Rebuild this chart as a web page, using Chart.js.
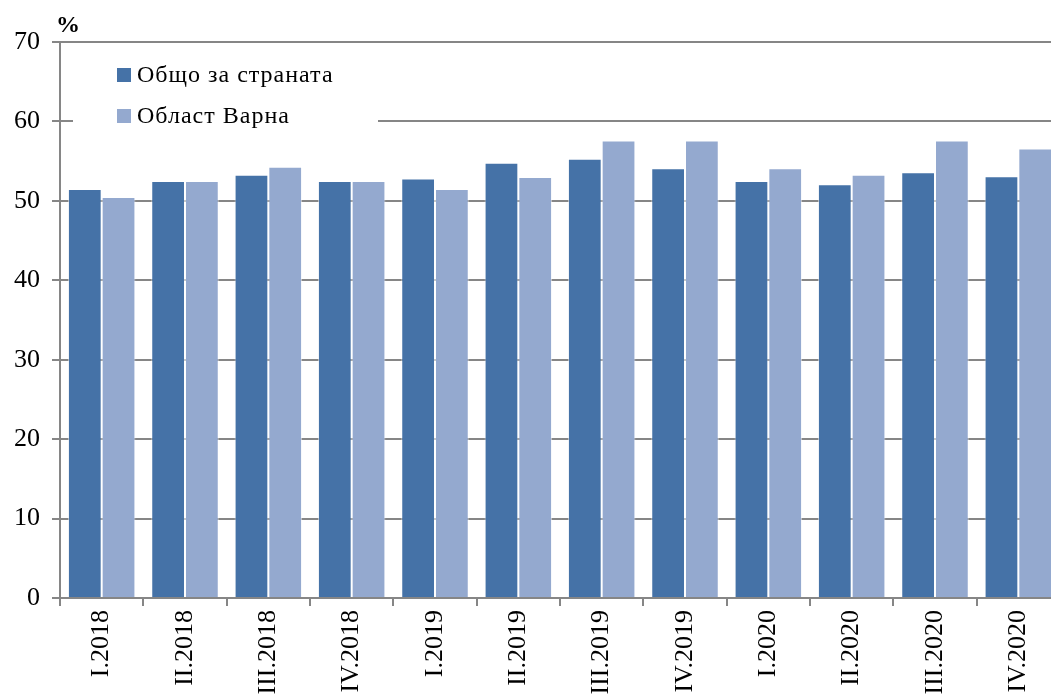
<!DOCTYPE html>
<html>
<head>
<meta charset="utf-8">
<script src="https://cdn.jsdelivr.net/npm/chart.js@4/dist/chart.umd.min.js"></script>
<style>
  html, body { margin: 0; padding: 0; background: #fff; overflow: hidden; }
  #wrap { position: relative; width: 1060px; height: 760px; }
</style>
</head>
<body>
<div id="wrap"><canvas id="chart"></canvas></div>
<script>
// quarters
const labels = ['I.2018', 'II.2018', 'III.2018', 'IV.2018', 'I.2019', 'II.2019', 'III.2019', 'IV.2019', 'I.2020', 'II.2020', 'III.2020', 'IV.2020'];
const country = [51.5, 52.5, 53.3, 52.5, 52.8, 54.8, 55.3, 54.1, 52.5, 52.1, 53.6, 53.1];
const varna = [50.5, 52.5, 54.3, 52.5, 51.5, 53.0, 57.6, 57.6, 54.1, 53.3, 57.6, 56.6];
const seriesNames = ['Общо за страната', 'Област Варна'];
const yTicks = [0, 10, 20, 30, 40, 50, 60, 70];

const darkBlue = '#4572a7';
const lightBlue = '#94a9cf';
const gridGray = '#868686';
const font = 'Liberation Serif';

// legend box sits inside the plot, covering the 60 gridline
const legendPlugin = {
  id: 'innerLegend',
  afterDraw(chart) {
    const ctx = chart.ctx;
    ctx.save();
    ctx.fillStyle = '#fff';
    ctx.fillRect(73, 52, 305, 88);
    const colors = [darkBlue, lightBlue];
    ctx.font = '24px "' + font + '"';
    ctx.letterSpacing = '1px';
    ctx.textBaseline = 'middle';
    seriesNames.forEach((name, i) => {
      const y = 75 + i * 41;
      ctx.fillStyle = colors[i];
      ctx.fillRect(117, y - 7, 14, 14);
      ctx.fillStyle = '#000';
      ctx.fillText(name, 137, y + 1);
    });
    // unit label
    ctx.letterSpacing = '0px';
    ctx.font = 'bold 24px "' + font + '"';
    ctx.textBaseline = 'alphabetic';
    ctx.fillText('%', 56, 32);
    ctx.restore();
  }
};

new Chart(document.getElementById('chart'), {
  type: 'bar',
  data: {
    labels: labels,
    datasets: [
      { label: seriesNames[0], data: country, backgroundColor: darkBlue, borderColor: 'rgba(255,255,255,0.55)', borderWidth: 1 },
      { label: seriesNames[1], data: varna, backgroundColor: lightBlue, borderColor: 'rgba(255,255,255,0.55)', borderWidth: 1 }
    ]
  },
  options: {
    responsive: true,
    maintainAspectRatio: false,
    animation: false,
    layout: { padding: { top: 42, right: 0, left: 0, bottom: 0 } },
    plugins: {
      legend: { display: false },
      tooltip: { enabled: false }
    },
    datasets: {
      bar: { categoryPercentage: 0.81, barPercentage: 1.0 }
    },
    scales: {
      x: {
        grid: { drawOnChartArea: false, drawTicks: true, tickLength: 8, color: gridGray, lineWidth: 2 },
        border: { display: true, color: gridGray, width: 2 },
        ticks: {
          color: '#000',
          font: { family: font, size: 26 },
          minRotation: 90,
          maxRotation: 90,
          padding: 4,
          autoSkip: false
        },
        afterFit(scale) { scale.height = 760 - 598; }
      },
      y: {
        min: 0,
        max: 70,
        afterBuildTicks(scale) { scale.ticks = yTicks.map(v => ({ value: v })); },
        grid: { color: gridGray, lineWidth: 2, tickLength: 8 },
        border: { display: true, color: gridGray, width: 2 },
        ticks: {
          color: '#000',
          font: { family: font, size: 26 },
          padding: 12
        },
        afterFit(scale) { scale.width = 60; }
      }
    }
  },
  plugins: [legendPlugin]
});
</script>
</body>
</html>
